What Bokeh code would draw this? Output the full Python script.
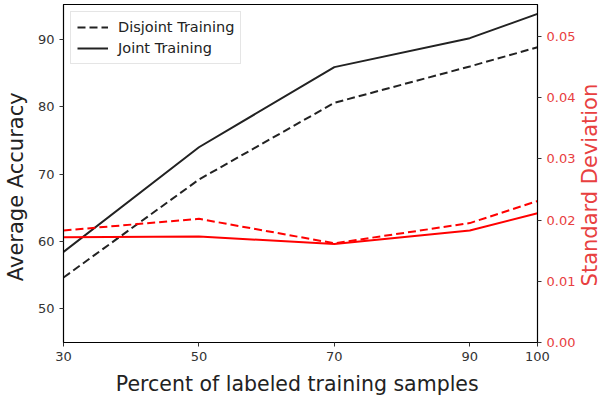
import math
from bokeh.plotting import figure
from bokeh.layouts import row
from bokeh.models import Range1d, LinearAxis, FixedTicker, Legend, LegendItem
from bokeh.core.properties import value
from bokeh.embed import file_html
from bokeh.resources import INLINE

# Data
percent = [30, 50, 70, 90, 100]
acc_disjoint = [54.65, 69.2, 80.6, 86.0, 88.85]
acc_joint = [58.45, 74.0, 85.9, 90.2, 93.8]
std_disjoint = [0.0183, 0.0202, 0.0162, 0.0195, 0.0231]
std_joint = [0.0172, 0.0173, 0.0161, 0.0183, 0.0211]
x_ticks = [30, 50, 70, 90, 100]
left_ticks = [50, 60, 70, 80, 90]
right_ticks = [0.0, 0.01, 0.02, 0.03, 0.04, 0.05]
left_title = "Average Accuracy"
right_title = "Standard Deviation"

FONT = "DejaVu Sans"
RED = "#ff0000"
RED_TXT = "#e84040"
DARK = "#222222"

TOTAL_H = 394


def title_strip(text, color, width, x_center, y_from_bottom):
    s = figure(
        width=width, height=TOTAL_H,
        x_range=Range1d(0, width), y_range=Range1d(0, TOTAL_H),
        output_backend="svg", toolbar_location=None,
        x_axis_location=None, y_axis_location=None, min_border=0,
    )
    s.xgrid.visible = False
    s.ygrid.visible = False
    s.outline_line_color = None
    s.background_fill_color = "white"
    s.border_fill_color = "white"
    s.text(x=[x_center], y=[y_from_bottom], text=[text], angle=math.pi / 2,
           text_align="center", text_baseline="middle",
           text_font=value(FONT), text_font_size="21px", text_color=color)
    return s


p = figure(
    frame_width=474, frame_height=338,
    x_range=Range1d(30, 100), y_range=Range1d(45, 95.2),
    output_backend="svg", toolbar_location=None,
    min_border_left=29, min_border_right=40, min_border_top=4, min_border_bottom=52,
)
p.extra_y_ranges = {"std": Range1d(0, 0.0552)}

p.xgrid.visible = False
p.ygrid.visible = False
p.outline_line_color = "black"
p.outline_line_width = 1.2
p.background_fill_color = "white"
p.border_fill_color = "white"

# Axes styling
for ax in (p.xaxis[0], p.yaxis[0]):
    ax.axis_line_color = "black"
    ax.major_tick_line_color = "#333333"
    ax.major_tick_out = 4
    ax.major_tick_in = 0
    ax.minor_tick_line_color = None
    ax.major_label_text_font = FONT
    ax.major_label_text_font_size = "13px"
    ax.major_label_text_color = "#333333"
    ax.major_label_standoff = 5
    ax.axis_label_text_font = FONT
    ax.axis_label_text_font_size = "20.5px"
    ax.axis_label_text_font_style = "normal"
    ax.axis_label_text_color = "#222222"

p.xaxis[0].ticker = FixedTicker(ticks=x_ticks)
p.xaxis[0].axis_label = "Percent of labeled training  samples"
p.xaxis[0].axis_label_standoff = 8
p.yaxis[0].ticker = FixedTicker(ticks=left_ticks)

rax = LinearAxis(y_range_name="std", ticker=FixedTicker(ticks=right_ticks))
rax.axis_line_color = "black"
rax.major_tick_line_color = "#333333"
rax.major_tick_out = 4
rax.major_tick_in = 0
rax.minor_tick_line_color = None
rax.major_label_text_font = FONT
rax.major_label_text_font_size = "13px"
rax.major_label_text_color = RED_TXT
rax.major_label_standoff = 5
rax.major_label_overrides = {0.0: "0.00", 0.01: "0.01", 0.02: "0.02", 0.03: "0.03", 0.04: "0.04", 0.05: "0.05"}
p.add_layout(rax, "right")

# Lines
r_dis = p.line(percent, acc_disjoint, line_color=DARK, line_width=2, line_dash="8 4")
r_joint = p.line(percent, acc_joint, line_color=DARK, line_width=2)
p.line(percent, std_disjoint, line_color=RED, line_width=2, line_dash="8 4", y_range_name="std")
p.line(percent, std_joint, line_color=RED, line_width=2, y_range_name="std")

legend = Legend(
    items=[LegendItem(label="Disjoint Training", renderers=[r_dis]),
           LegendItem(label="Joint Training", renderers=[r_joint])],
    location="top_left",
    label_text_font=FONT, label_text_font_size="14.5px", label_text_color="#222222",
    glyph_width=31, glyph_height=18, label_standoff=10,
    spacing=3, padding=6, margin=7,
    border_line_color="#cccccc", border_line_width=1,
    background_fill_color="white", background_fill_alpha=0.8,
)
p.add_layout(legend, "center")

left_strip = title_strip(left_title, "#222222", 34, 15, TOTAL_H - 215)
right_strip = title_strip(right_title, RED_TXT, 22, 11, TOTAL_H - 213)

layout = row(left_strip, p, right_strip, spacing=0)
open("out.html", "w").write(file_html(layout, INLINE))
